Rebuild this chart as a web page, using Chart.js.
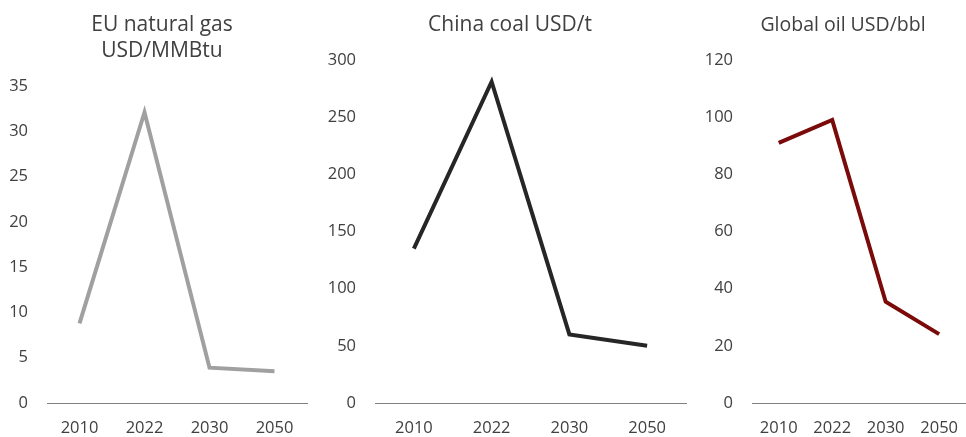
<!DOCTYPE html>
<html>
<head>
<meta charset="utf-8">
<script src="https://cdn.jsdelivr.net/npm/chart.js@4.4.1/dist/chart.umd.min.js"></script>
<style>
  html, body { margin:0; padding:0; background:#ffffff; overflow:hidden; width:966px; height:437px; }
  .box { position:absolute; top:0; height:437px; }
  #b1 { left:0; width:322px; }
  #b2 { left:322px; width:378px; }
  #b3 { left:644px; width:329px; }
</style>
</head>
<body>
<div class="box" id="b1"><canvas id="c1"></canvas></div>
<div class="box" id="b2"><canvas id="c2"></canvas></div>
<div class="box" id="b3"><canvas id="c3"></canvas></div>
<script>
const years = ['2010', '2022', '2030', '2050'];
const gasTitle = ['EU natural gas', 'USD/MMBtu'];
const gasValues = [8.8, 32.1, 3.9, 3.5];
const coalTitle = ['China coal USD/t'];
const coalValues = [135, 281, 60, 50];
const oilTitle = ['Global oil USD/bbl'];
const oilValues = [91, 99, 35.4, 24.1];

const FONT = "'Open Sans', 'Noto Sans', sans-serif";
const TEXT = '#404040';

const titlePlugin = {
  id: 'panelTitle',
  afterDraw(chart, args, opts) {
    const ctx = chart.ctx;
    ctx.save();
    ctx.fillStyle = TEXT;
    ctx.font = opts.size + 'px ' + FONT;
    ctx.textAlign = 'center';
    ctx.textBaseline = 'middle';
    opts.lines.forEach((t, i) => ctx.fillText(t, opts.x, opts.y + i * opts.lh));
    ctx.restore();
  }
};

function makeChart(id, labels, values, color, cfg) {
  return new Chart(document.getElementById(id), {
    type: 'line',
    data: {
      labels: labels,
      datasets: [{
        data: values,
        borderColor: color,
        borderWidth: 4,
        pointRadius: 0,
        pointHoverRadius: 0,
        tension: 0,
        fill: false,
        borderJoinStyle: 'miter',
        borderCapStyle: 'butt'
      }]
    },
    plugins: [titlePlugin],
    options: {
      responsive: true,
      maintainAspectRatio: false,
      animation: false,
      events: [],
      layout: { padding: { left: 0, right: cfg.padRight, top: cfg.top, bottom: 0 } },
      plugins: {
        legend: { display: false },
        tooltip: { enabled: false },
        title: { display: false },
        panelTitle: { lines: cfg.title, x: cfg.tx, y: 25, lh: 26, size: cfg.ts }
      },
      scales: {
        x: {
          offset: true,
          grid: { display: false, drawTicks: false },
          border: { display: true, color: '#808080', width: 1 },
          ticks: { color: TEXT, font: { family: FONT, size: 16.5 }, padding: 15, maxRotation: 0, autoSkip: false },
          afterFit: s => { s.height = 34; }
        },
        y: {
          min: 0,
          max: cfg.max,
          grid: { display: false, drawTicks: false },
          border: { display: false },
          ticks: { stepSize: cfg.step, color: TEXT, font: { family: FONT, size: 16.5 }, padding: 19 },
          afterFit: s => { s.width = cfg.yw; }
        }
      }
    }
  });
}

makeChart('c1', years, gasValues, '#a0a0a0', { title: gasTitle, tx: 162, ts: 21, top: 86, padRight: 15, yw: 47, max: 35, step: 5 });
makeChart('c2', years, coalValues, '#262626', { title: coalTitle, tx: 188, ts: 21, top: 60, padRight: 14, yw: 53, max: 300, step: 50 });
makeChart('c3', years, oilValues, '#7b0b0b', { title: oilTitle, tx: 199, ts: 19.5, top: 60, padRight: 0, yw: 108, max: 120, step: 20 });
</script>
</body>
</html>
